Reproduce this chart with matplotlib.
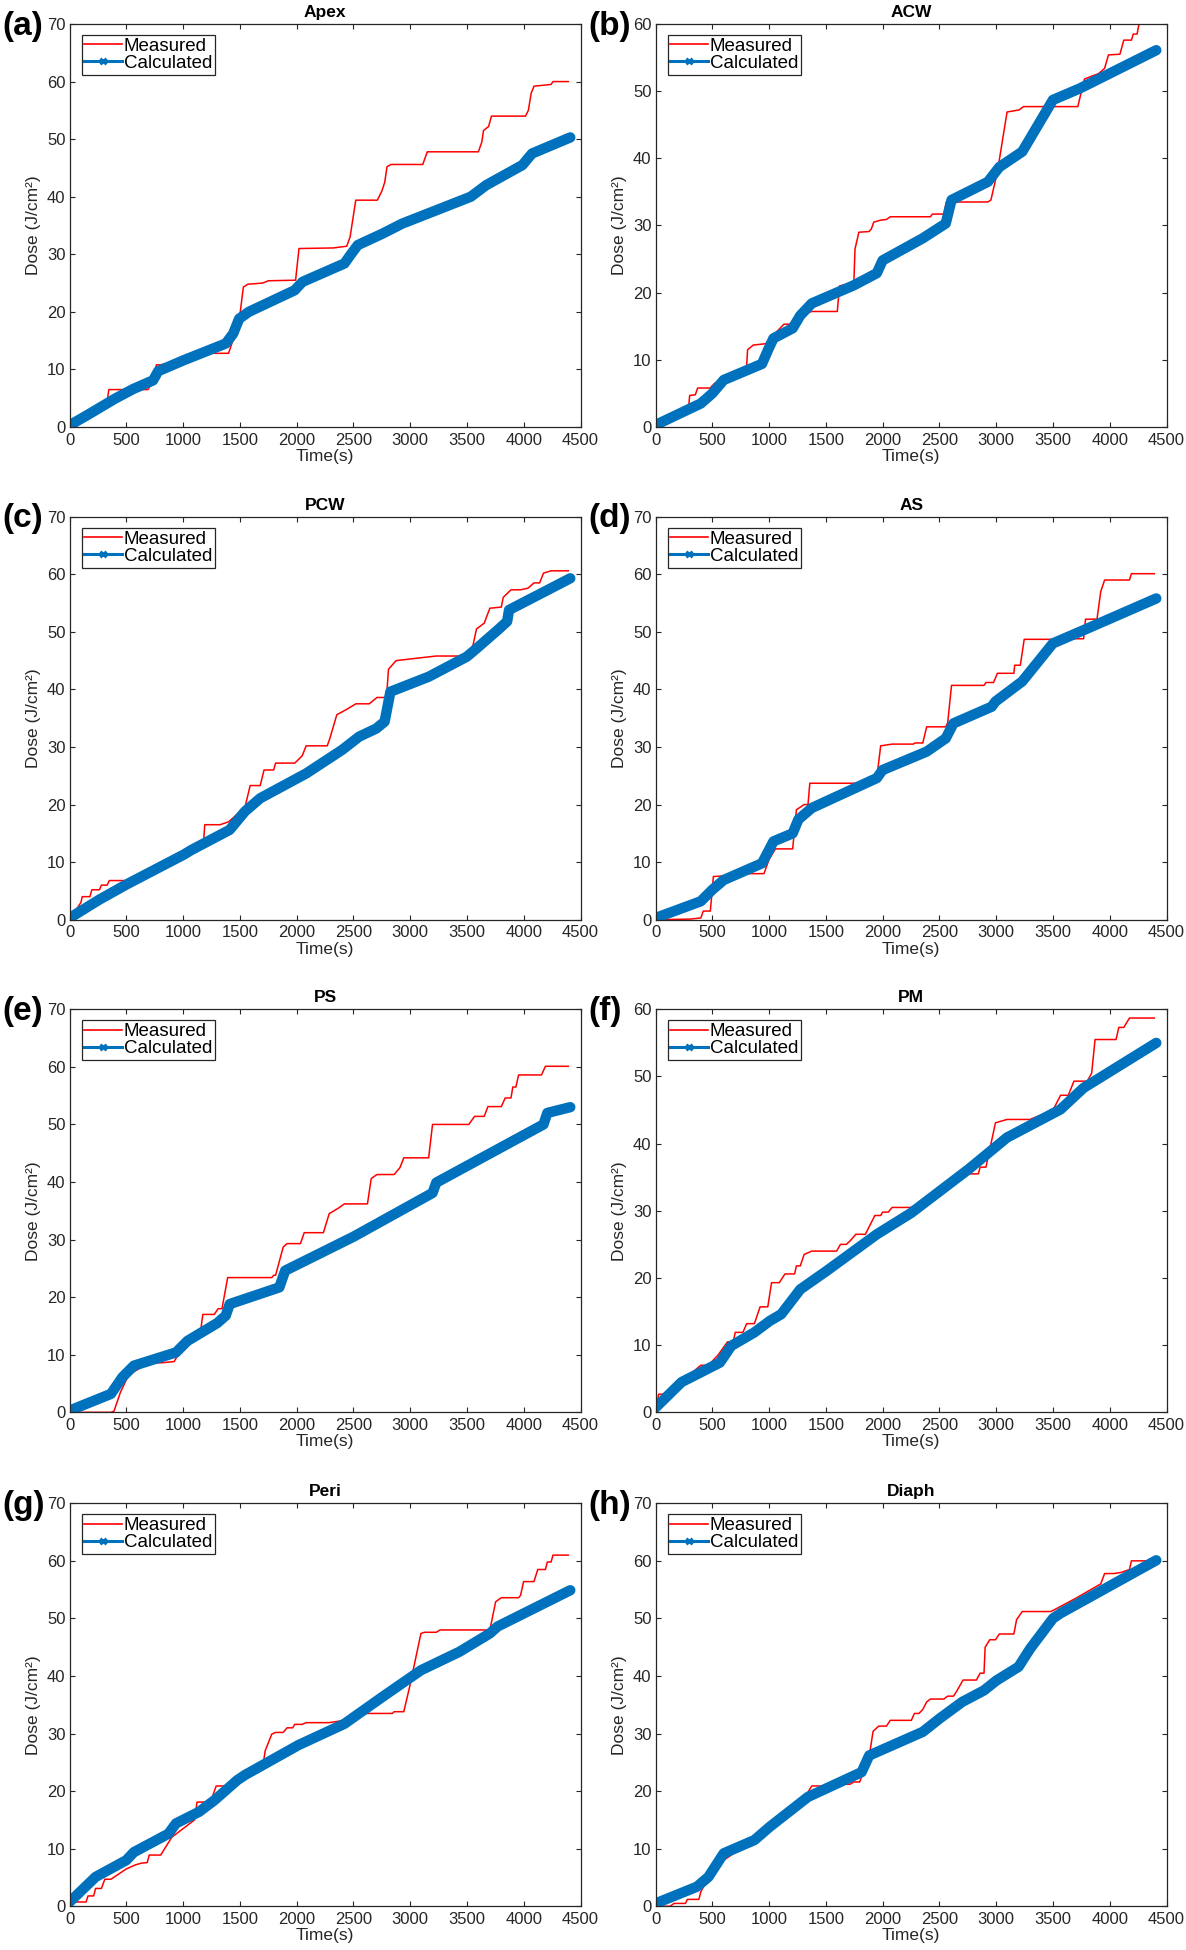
import matplotlib
matplotlib.use("Agg")
import matplotlib.pyplot as plt
from matplotlib.lines import Line2D

plt.rcParams['font.family'] = ['Liberation Sans', 'DejaVu Sans']

# ---------------- data ----------------
titles = ["Apex", "ACW", "PCW", "AS", "PS", "PM", "Peri", "Diaph"]
panel_labels = ["(a)", "(b)", "(c)", "(d)", "(e)", "(f)", "(g)", "(h)"]
y_max = [70, 60, 70, 70, 70, 60, 70, 70]
x_ticks = [0, 500, 1000, 1500, 2000, 2500, 3000, 3500, 4000, 4500]

apex_meas_t = [0, 120, 250, 335, 345, 690, 720, 765, 800, 1000, 1200, 1400, 1470, 1500, 1530, 1570, 1700, 1750, 1990, 2020, 2320, 2440, 2470, 2520, 2710, 2750, 2775, 2795, 2830, 3110, 3150, 3600, 3630, 3645, 3690, 3715, 4015, 4040, 4065, 4090, 4240, 4257, 4392]
apex_meas_y = [0, 1.5, 3.5, 5, 6.5, 6.5, 7.5, 10.8, 10.8, 11.5, 12.8, 12.8, 17, 19.5, 24.3, 24.8, 25.0, 25.4, 25.5, 31.0, 31.1, 31.4, 33, 39.4, 39.4, 41, 42.5, 45.2, 45.6, 45.6, 47.8, 47.8, 49.5, 51.5, 52.2, 54, 54, 55, 58, 59.2, 59.5, 60, 60]
apex_calc_t = [0, 150, 398, 560, 735, 780, 1005, 1375, 1440, 1493, 1578, 1982, 2050, 2420, 2470, 2538, 2757, 2926, 3533, 3668, 3988, 4072, 4409]
apex_calc_y = [0.3, 2, 4.9, 6.6, 8.1, 9.7, 11.6, 14.5, 16.2, 18.8, 20, 23.75, 25.2, 28.4, 29.8, 31.6, 33.6, 35.3, 40, 42, 45.5, 47.5, 50.3]

acw_meas_t = [0, 200, 290, 300, 350, 370, 480, 520, 800, 810, 860, 970, 1000, 1130, 1180, 1250, 1375, 1600, 1620, 1746, 1756, 1790, 1880, 1900, 1921, 1982, 2033, 2066, 2420, 2437, 2538, 2560, 2640, 2926, 2953, 3010, 3095, 3200, 3240, 3718, 3776, 3836, 3900, 3954, 3988, 4089, 4123, 4190, 4207, 4240, 4257, 4392]
acw_meas_y = [0, 1.5, 2.8, 4.7, 4.8, 5.8, 5.8, 6.5, 8.5, 11.5, 12.2, 12.4, 13, 15.3, 15.3, 16.5, 17.2, 17.2, 21, 21.5, 26.5, 29, 29.1, 29.5, 30.5, 30.8, 30.9, 31.3, 31.3, 31.7, 31.7, 33.5, 33.5, 33.5, 33.8, 38, 46.9, 47.2, 47.7, 47.7, 51.8, 52.2, 52.6, 53.4, 55.4, 55.5, 57.6, 57.6, 58.5, 58.5, 60, 60]
acw_calc_t = [0, 398, 499, 600, 937, 988, 1038, 1207, 1274, 1375, 1746, 1948, 1999, 2353, 2555, 2606, 2926, 3027, 3229, 3499, 3735, 4409]
acw_calc_y = [0.3, 3.5, 5, 7, 9.4, 11.4, 13.2, 14.7, 16.6, 18.4, 21.1, 22.9, 24.8, 28.1, 30.3, 33.8, 36.5, 38.7, 41, 48.7, 50.4, 56.1]

pcw_meas_t = [0, 100, 111, 179, 196, 263, 280, 330, 350, 499, 600, 1000, 1180, 1190, 1325, 1400, 1544, 1590, 1679, 1712, 1797, 1814, 1982, 1999, 2049, 2083, 2269, 2292, 2353, 2437, 2521, 2639, 2707, 2791, 2808, 2875, 3094, 3229, 3465, 3540, 3583, 3651, 3701, 3802, 3819, 3887, 3971, 4038, 4089, 4139, 4173, 4240, 4392]
pcw_meas_y = [0, 3, 4, 4, 5.2, 5.2, 6, 6, 6.8, 6.8, 7.2, 12, 13.5, 16.5, 16.5, 17, 19.5, 23.3, 23.3, 26, 26, 27.2, 27.2, 27.5, 28.5, 30.2, 30.2, 31.5, 35.6, 36.5, 37.5, 37.5, 38.6, 38.6, 43.5, 45, 45.5, 45.8, 45.8, 46.5, 50.5, 51.5, 54.1, 54.3, 56, 57.3, 57.3, 57.6, 58.5, 58.5, 60.2, 60.6, 60.6]
pcw_calc_t = [0, 263, 499, 1005, 1072, 1409, 1544, 1679, 2083, 2400, 2550, 2700, 2774, 2825, 3162, 3499, 3583, 3769, 3853, 3870, 4409]
pcw_calc_y = [0.3, 3.5, 6.1, 11.3, 12.1, 15.6, 18.8, 21.1, 25.4, 29.5, 31.8, 33.2, 34.4, 39.6, 42.2, 45.7, 47.1, 50.3, 51.8, 53.8, 59.3]

as_meas_t = [0, 300, 398, 420, 482, 509, 600, 802, 954, 1000, 1055, 1207, 1240, 1308, 1342, 1358, 1814, 1950, 1982, 2083, 2269, 2285, 2353, 2387, 2555, 2572, 2606, 2892, 2909, 2976, 3010, 3155, 3162, 3212, 3246, 3499, 3700, 3769, 3786, 3887, 3920, 3954, 4173, 4190, 4392]
as_meas_y = [0, 0.1, 0.3, 1.5, 1.5, 7.5, 7.6, 8.0, 8.0, 10.5, 12.3, 12.3, 19.1, 20, 20, 23.7, 23.7, 25, 30.2, 30.5, 30.5, 30.7, 30.7, 33.5, 33.5, 34.2, 40.7, 40.7, 41.2, 41.2, 42.8, 42.8, 44.2, 44.2, 48.7, 48.7, 48.8, 48.8, 52.2, 52.2, 57, 59, 59, 60.1, 60.1]
as_calc_t = [0, 398, 499, 600, 937, 1038, 1207, 1257, 1375, 1948, 1999, 2387, 2555, 2623, 2960, 2993, 3229, 3499, 3735, 4409]
as_calc_y = [0.3, 3.2, 5.2, 6.9, 9.8, 13.6, 15, 17.4, 19.4, 24.6, 26, 29.2, 31.5, 34.1, 37, 37.9, 41.4, 48, 50, 55.8]

ps_meas_t = [0, 364, 391, 448, 520, 700, 802, 920, 1000, 1150, 1173, 1274, 1308, 1342, 1392, 1780, 1797, 1814, 1881, 1915, 2033, 2066, 2235, 2286, 2370, 2420, 2623, 2656, 2707, 2858, 2909, 2943, 3162, 3196, 3516, 3566, 3651, 3684, 3802, 3836, 3887, 3903, 3930, 3954, 4156, 4190, 4392]
ps_meas_y = [0, 0, 0.2, 3.5, 6.5, 8.6, 8.6, 8.8, 11.5, 13.5, 17.0, 17.0, 18, 18, 23.4, 23.4, 23.8, 23.8, 28.7, 29.3, 29.3, 31.2, 31.2, 34.5, 35.5, 36.2, 36.2, 40.6, 41.3, 41.3, 42.5, 44.2, 44.2, 50, 50, 51.4, 51.4, 53.1, 53.1, 54.6, 54.6, 56.5, 56.5, 58.6, 58.6, 60.1, 60.1]
ps_calc_t = [0, 364, 465, 566, 937, 1038, 1300, 1375, 1410, 1847, 1898, 2500, 3196, 3229, 4173, 4207, 4409]
ps_calc_y = [0.3, 3.2, 6.1, 8.1, 10.4, 12.4, 15.5, 16.8, 18.8, 21.7, 24.6, 30.5, 38.1, 39.9, 50, 52, 53]

pm_meas_t = [0, 27, 94, 200, 398, 465, 549, 634, 684, 701, 769, 802, 870, 920, 988, 1021, 1089, 1139, 1224, 1240, 1274, 1308, 1375, 1594, 1628, 1679, 1712, 1763, 1847, 1931, 1982, 1999, 2049, 2083, 2252, 2500, 2700, 2757, 2842, 2858, 2909, 2993, 3094, 3297, 3500, 3566, 3634, 3684, 3802, 3840, 3870, 4055, 4079, 4123, 4173, 4392]
pm_meas_y = [0, 2.7, 2.7, 4.2, 7.0, 7.0, 8.5, 10.5, 10.5, 11.9, 11.9, 13.2, 13.2, 15.7, 15.7, 19.3, 19.3, 20.6, 20.6, 21.8, 21.8, 23.5, 24.0, 24.0, 25, 25, 25.5, 26.5, 26.5, 29.3, 29.3, 29.8, 29.8, 30.5, 30.5, 32.5, 35, 35.5, 35.5, 36.5, 36.5, 43.1, 43.6, 43.6, 45, 47.2, 47.2, 49.3, 49.3, 50.5, 55.5, 55.5, 57.3, 57.3, 58.7, 58.7]
pm_calc_t = [0, 229, 566, 667, 870, 1005, 1106, 1274, 1510, 1948, 2252, 2757, 3094, 3566, 3769, 4409]
pm_calc_y = [0.7, 4.5, 7.4, 9.9, 11.9, 13.6, 14.6, 18.3, 21.1, 26.5, 29.7, 36.2, 40.9, 45.1, 48.3, 55]

peri_meas_t = [0, 27, 145, 162, 212, 229, 280, 310, 364, 500, 580, 634, 684, 701, 802, 900, 1100, 1122, 1240, 1291, 1409, 1500, 1700, 1722, 1780, 1814, 1881, 1915, 1965, 1982, 2049, 2083, 2286, 2488, 2538, 2572, 2842, 2858, 2943, 2993, 3094, 3128, 3229, 3263, 3701, 3752, 3802, 3954, 3971, 3998, 4089, 4123, 4190, 4207, 4240, 4257, 4392]
peri_meas_y = [0, 0.75, 0.75, 1.8, 1.8, 3.1, 3.1, 4.7, 4.7, 6.5, 7.2, 7.5, 7.6, 8.9, 8.9, 12, 15, 18.1, 18.1, 20.9, 20.9, 21.5, 24, 27, 29.9, 30.2, 30.2, 31.0, 31.0, 31.6, 31.6, 31.9, 31.9, 32.5, 32.5, 33.5, 33.5, 33.8, 33.8, 38, 47.4, 47.6, 47.6, 48.0, 48.0, 52.9, 53.6, 53.6, 54, 56.4, 56.4, 58.5, 58.5, 59.8, 59.8, 61, 61]
peri_calc_t = [0, 229, 499, 566, 870, 937, 1139, 1274, 1476, 1544, 2015, 2420, 2757, 3094, 3432, 3701, 3769, 4409]
peri_calc_y = [0.75, 5.1, 8.0, 9.4, 12.6, 14.4, 16.4, 18.4, 21.9, 22.8, 28.0, 31.7, 36.4, 41, 44.2, 47.4, 48.6, 54.9]

diaph_meas_t = [0, 128, 162, 263, 280, 381, 398, 450, 600, 1000, 1300, 1375, 1476, 1645, 1712, 1746, 1797, 1881, 1915, 1965, 2033, 2066, 2252, 2279, 2319, 2353, 2387, 2420, 2538, 2572, 2623, 2656, 2707, 2825, 2858, 2892, 2902, 2943, 2993, 3027, 3155, 3179, 3229, 3482, 3700, 3920, 3954, 4038, 4100, 4173, 4190, 4392]
diaph_meas_y = [0, 0, 0.5, 0.5, 1.2, 1.2, 2.5, 4.5, 8, 13.5, 18.5, 20.9, 20.9, 21.2, 21.2, 21.6, 21.6, 26, 30.4, 31.3, 31.3, 32.3, 32.3, 33.5, 33.5, 34.2, 35.5, 36.0, 36.0, 36.5, 36.5, 37.5, 39.3, 39.3, 40.5, 40.5, 45.0, 46.3, 46.3, 47.3, 47.3, 49.8, 51.2, 51.2, 53.5, 56, 57.8, 57.8, 58, 58.5, 60, 60]
diaph_calc_t = [0, 364, 465, 600, 870, 1005, 1342, 1814, 1881, 2353, 2500, 2700, 2892, 3000, 3196, 3300, 3499, 3566, 4409]
diaph_calc_y = [0.5, 3.4, 5.1, 9.2, 11.5, 13.8, 19.0, 23.3, 26.2, 30.3, 32.6, 35.5, 37.5, 39.2, 41.6, 44.8, 50, 50.9, 60.1]

measured = [(apex_meas_t, apex_meas_y), (acw_meas_t, acw_meas_y), (pcw_meas_t, pcw_meas_y),
            (as_meas_t, as_meas_y), (ps_meas_t, ps_meas_y), (pm_meas_t, pm_meas_y),
            (peri_meas_t, peri_meas_y), (diaph_meas_t, diaph_meas_y)]
calculated = [(apex_calc_t, apex_calc_y), (acw_calc_t, acw_calc_y), (pcw_calc_t, pcw_calc_y),
              (as_calc_t, as_calc_y), (ps_calc_t, ps_calc_y), (pm_calc_t, pm_calc_y),
              (peri_calc_t, peri_calc_y), (diaph_calc_t, diaph_calc_y)]

# ---------------- layout ----------------
W, H = 1186, 1950
fig = plt.figure(figsize=(W / 100, H / 100), dpi=100)
col_left = [69.6, 655.6]
row_top = [24, 516.7, 1009.3, 1503.3]
ax_w, ax_h = 511, 403

RED = '#FF0000'
BLUE = '#0072BD'
TXT = '#262626'

for i in range(8):
    r, c = divmod(i, 2)
    L = col_left[c]
    T = row_top[r]
    ax = fig.add_axes([L / W, 1 - (T + ax_h) / H, ax_w / W, ax_h / H])
    mt, my = measured[i]
    ct, cy = calculated[i]
    ax.plot(ct, cy, color=BLUE, lw=7.5, solid_joinstyle='round', solid_capstyle='round', zorder=2)
    ax.plot(mt, my, color=RED, lw=1.1, zorder=1)
    ax.set_xlim(0, 4500)
    ax.set_ylim(0, y_max[i])
    ax.set_xticks(x_ticks)
    ax.set_yticks(list(range(0, y_max[i] + 1, 10)))
    ax.tick_params(direction='in', top=True, right=True, length=3.5, width=0.8,
                   labelsize=12, colors=TXT, pad=3)
    ax.tick_params(axis='x', pad=4)
    for s in ax.spines.values():
        s.set_color(TXT)
        s.set_linewidth(0.9)
    ax.set_xlabel('Time(s)', fontsize=12.5, color=TXT, labelpad=1)
    ax.set_ylabel('Dose (J/cm²)', fontsize=12.5, color=TXT, labelpad=4)
    ax.set_title(titles[i], fontsize=12.5, fontweight='bold', color='black', pad=5)
    handles = [Line2D([0], [0], color=RED, lw=1.2),
               Line2D([0], [0], color=BLUE, lw=2.2, marker='x', ms=5, mew=2)]
    leg = ax.legend(handles, ['Measured', 'Calculated'], loc='upper left',
                    bbox_to_anchor=(12 / ax_w, 1 - 11 / ax_h), borderaxespad=0,
                    fontsize=13.5, labelspacing=0.0, borderpad=0.15, handlelength=2.0,
                    handletextpad=0.1, fancybox=False, framealpha=1, edgecolor=TXT)
    leg.get_frame().set_linewidth(0.9)
    fig.text((L - 67) / W, 1 - (T + 2) / H, panel_labels[i], fontsize=24,
             fontweight='bold', ha='left', va='center', color='black')

fig.savefig('out.png', dpi=100)
